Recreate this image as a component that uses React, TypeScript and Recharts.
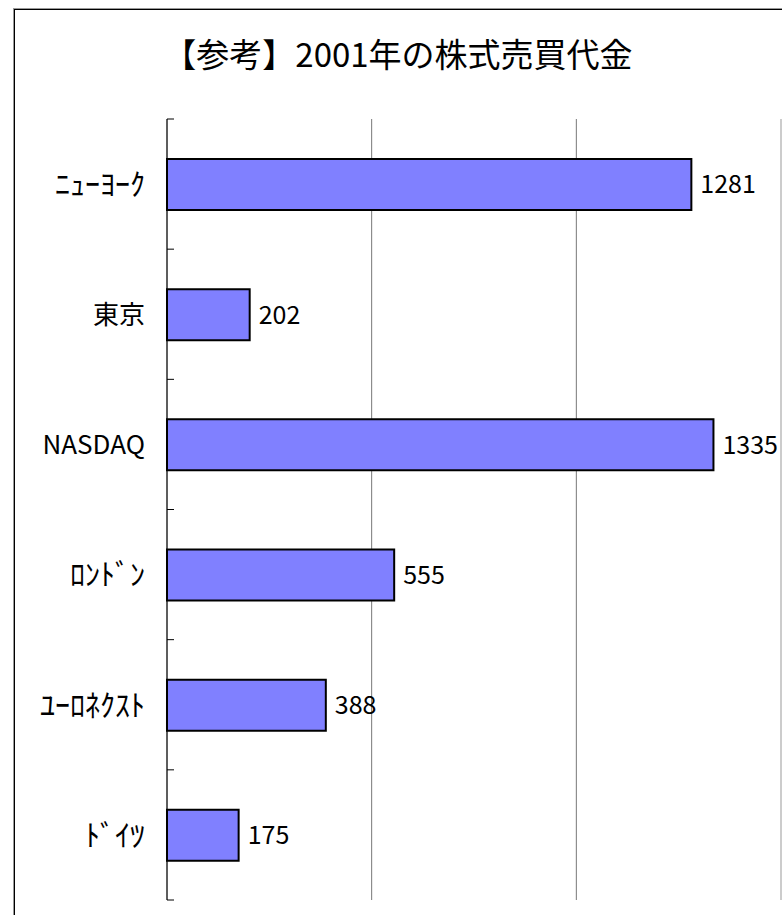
import { Bar, BarChart, CartesianGrid, LabelList, ReferenceLine, XAxis, YAxis } from "recharts"

const markets = ["ﾆｭｰﾖｰｸ", "東京", "NASDAQ", "ﾛﾝﾄﾞﾝ", "ﾕｰﾛﾈｸｽﾄ", "ﾄﾞｲﾂ"]
const tradingValue = [1281, 202, 1335, 555, 388, 175]
const gridTicks = [0, 500, 1000]
const axisMax = 1500

const data = markets.map((name, i) => ({ name, value: tradingValue[i] }))

const font = '"Noto Sans CJK JP", "Noto Sans", sans-serif'

const chartW = 800
const chartH = 915
const margin = { top: 119, right: 19, bottom: 15, left: 17 }
const labelGap = 22
const bandH = (chartH - margin.top - margin.bottom) / markets.length

// half-width kana look small in Noto, the original font draws them full height
const halfKana = /[\uFF61-\uFF9F]/

// category label plus the short inward tick marks on the band boundaries
function MarketTick(props: any) {
  const { x, y, payload, index, visibleTicksCount } = props
  const label = String(payload.value)
  const size = halfKana.test(label) ? 30 : 26
  const ax = x + labelGap
  const top = y - bandH / 2
  const bottom = y + bandH / 2
  return (
    <g>
      <text x={x} y={y} dy="0.36em" textAnchor="end" fill="#000" fontSize={size} fontFamily={font}>
        {label}
      </text>
      <line x1={ax} x2={ax + 7} y1={top} y2={top} stroke="#000" />
      {index === visibleTicksCount - 1 && <line x1={ax} x2={ax + 7} y1={bottom} y2={bottom} stroke="#000" />}
    </g>
  )
}

export default function App() {
  return (
    <div
      style={{
        position: "absolute",
        left: 0,
        top: 0,
        width: 782,
        height: 915,
        overflow: "hidden",
        background: "#fff",
        fontFamily: font,
      }}
    >
      <div
        style={{
          position: "absolute",
          left: 14,
          top: 9,
          width: 800,
          height: 940,
          border: "1px solid #000",
          outline: "1px solid #999",
        }}
      />
      <div
        style={{
          position: "absolute",
          left: 0,
          top: 35,
          width: 796,
          textAlign: "center",
          fontSize: 33,
          lineHeight: "36px",
          color: "#000",
        }}
      >
        【参考】2001年の株式売買代金
      </div>
      <div style={{ position: "absolute", left: 0, top: 0 }}>
        <BarChart width={chartW} height={chartH} data={data} layout="vertical" margin={margin}>
          <CartesianGrid horizontal={false} stroke="#777" />
          <XAxis type="number" domain={[0, axisMax]} ticks={gridTicks} hide />
          <YAxis
            type="category"
            dataKey="name"
            width={150}
            interval={0}
            tickLine={false}
            tickSize={0}
            tickMargin={labelGap}
            axisLine={{ stroke: "#000" }}
            tick={MarketTick}
          />
          <ReferenceLine x={axisMax} stroke="#ddd" />
          <Bar
            dataKey="value"
            fill="#8080FF"
            stroke="#000"
            strokeWidth={2}
            barSize={51}
            isAnimationActive={false}
          >
            <LabelList dataKey="value" position="right" offset={9} fill="#000" fontSize={25} fontFamily={font} />
          </Bar>
        </BarChart>
      </div>
    </div>
  )
}
